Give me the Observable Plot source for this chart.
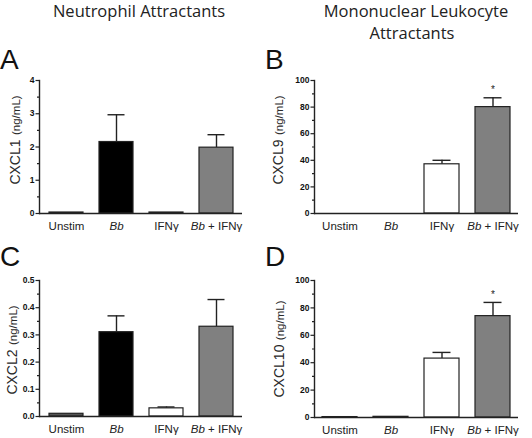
<!DOCTYPE html>
<html><head><meta charset="utf-8">
<script src="https://cdn.jsdelivr.net/npm/d3@7"></script>
<script src="https://cdn.jsdelivr.net/npm/@observablehq/plot@0.6"></script>
<style>
body{margin:0;background:#fff;}
#root{position:relative;width:532px;height:438px;overflow:hidden;background:#fff;font-family:"Liberation Sans",Arial,sans-serif;}
.hdr{position:absolute;font-family:"Open Sans",sans-serif;font-size:16.5px;line-height:20px;color:#222;white-space:nowrap;transform:translateX(-50%);}
.let{position:absolute;font-family:"Liberation Sans",Arial,sans-serif;font-size:28px;line-height:28px;color:#111;}
.yl{position:absolute;transform:translate(-50%,-50%) rotate(-90deg);white-space:nowrap;color:#2a2a2a;font-family:"Liberation Sans",Arial,sans-serif;}
.yl .m{font-size:14px}
.yl .u{font-size:11.5px}
.panel{position:absolute}
</style></head><body><div id="root"></div>
<script>
const categories = ["Unstim", "Bb", "IFNγ", "Bb + IFNγ"];
const barFills = ["#555555", "#000000", "#ffffff", "#808080"];

const cxcl1 = [0.03, 2.15, 0.03, 1.98];
const cxcl1Err = [null, 2.97, null, 2.37];
const cxcl9 = [0, 0, 37, 80];
const cxcl9Err = [null, null, 40, 87];
const cxcl2 = [0.01, 0.31, 0.03, 0.33];
const cxcl2Err = [null, 0.37, 0.035, 0.43];
const cxcl10 = [0.3, 0.5, 43, 74];
const cxcl10Err = [null, null, 47.5, 84];
const starsB = [false, false, false, true];
const starsD = [false, false, false, true];

const ticksA = [0, 1, 2, 3, 4], minorA = [0.5, 1.5, 2.5, 3.5];
const ticksB = [0, 20, 40, 60, 80, 100], minorB = [10, 30, 50, 70, 90];
const ticksC = [0, 0.1, 0.2, 0.3, 0.4, 0.5], minorC = [0.05, 0.15, 0.25, 0.35, 0.45];

const headers = [
  {text: "Neutrophil Attractants", x: 139, y: 1},
  {text: "Mononuclear Leukocyte", x: 416, y: 1},
  {text: "Attractants", x: 412, y: 23}
];

const panels = [
  {letter: "A", lx: 0, ly: 46, label: "CXCL1", ylx: 15, yly: 140,
   left: 0, top: 60, width: 266, height: 180, mL: 39, mR: 24, mT: 20, mB: 27,
   values: cxcl1, errs: cxcl1Err, stars: null, domain: [0, 4], ticks: ticksA, minor: minorA, fmt: d3.format("d")},
  {letter: "B", lx: 265, ly: 46, label: "CXCL9", ylx: 278, yly: 140,
   left: 266, top: 60, width: 266, height: 180, mL: 48, mR: 14, mT: 20, mB: 27,
   values: cxcl9, errs: cxcl9Err, stars: starsB, domain: [0, 100], ticks: ticksB, minor: minorB, fmt: d3.format("d")},
  {letter: "C", lx: 0, ly: 243, label: "CXCL2", ylx: 12, yly: 350,
   left: 0, top: 265, width: 266, height: 173, mL: 39, mR: 24, mT: 15, mB: 22,
   values: cxcl2, errs: cxcl2Err, stars: null, domain: [0, 0.5], ticks: ticksC, minor: minorC, fmt: d3.format(".1f")},
  {letter: "D", lx: 265, ly: 243, label: "CXCL10", ylx: 279, yly: 349,
   left: 266, top: 265, width: 266, height: 173, mL: 48, mR: 14, mT: 15, mB: 21,
   values: cxcl10, errs: cxcl10Err, stars: starsD, domain: [0, 100], ticks: ticksB, minor: minorB, fmt: d3.format("d")}
];

const root = document.getElementById("root");

for (const h of headers) {
  const d = document.createElement("div");
  d.className = "hdr";
  d.style.left = h.x + "px";
  d.style.top = h.y + "px";
  d.textContent = h.text;
  root.appendChild(d);
}

for (const p of panels) {
  const rows = categories.map((c, i) => ({cat: c, v: p.values[i], e: p.errs[i], fill: barFills[i], star: p.stars ? p.stars[i] : false}));
  const withErr = rows.filter(r => r.e != null);
  const withStar = rows.filter(r => r.star);
  const plot = Plot.plot({
    width: p.width, height: p.height,
    marginLeft: p.mL, marginRight: p.mR, marginTop: p.mT, marginBottom: p.mB,
    style: {fontFamily: "Liberation Sans, Arial, sans-serif", background: "transparent", color: "#222"},
    x: {domain: categories, paddingInner: 0.32, paddingOuter: 0.16, label: null},
    y: {domain: p.domain, label: null},
    marks: [
      Plot.ruleX(withErr, {x: "cat", y1: "v", y2: "e", stroke: "#222", strokeWidth: 1.4}),
      Plot.tickY(withErr, {x: "cat", y: "e", stroke: "#222", strokeWidth: 1.4, insetLeft: 8.5, insetRight: 8.5}),
      Plot.barY(rows, {x: "cat", y: "v", fill: "fill", stroke: "#222", strokeWidth: 1.2}),
      Plot.text(withStar, {x: "cat", y: "e", text: () => "*", dy: -8, fontSize: 10, fill: "#222"}),
      Plot.axisY({ticks: p.ticks, tickFormat: p.fmt, tickSize: 3.5, tickPadding: 1.5, fontSize: 8.5, fontWeight: "bold", stroke: "#222", strokeWidth: 1.2, fill: "#111", label: null}),
      Plot.axisY({ticks: p.minor, tickFormat: () => "", tickSize: 2, stroke: "#222", strokeWidth: 1.2, label: null}),
      Plot.axisX({tickSize: 0, tickPadding: 8, fontSize: 11.5, fill: "#222", label: null}),
      Plot.frame({anchor: "left", stroke: "#222", strokeWidth: 1.4}),
      Plot.ruleY([0], {stroke: "#222", strokeWidth: 1.4})
    ]
  });
  // italicize "Bb" in the x tick labels
  plot.querySelectorAll('g[aria-label="x-axis tick label"] text').forEach(t => {
    const s = t.textContent;
    if (s.startsWith("Bb")) {
      t.textContent = "";
      const a = document.createElementNS("http://www.w3.org/2000/svg", "tspan");
      a.setAttribute("font-style", "italic");
      a.textContent = "Bb";
      t.appendChild(a);
      if (s.length > 2) {
        const b = document.createElementNS("http://www.w3.org/2000/svg", "tspan");
        b.textContent = s.slice(2);
        t.appendChild(b);
      }
    }
  });
  const wrap = document.createElement("div");
  wrap.className = "panel";
  wrap.style.left = p.left + "px";
  wrap.style.top = p.top + "px";
  wrap.appendChild(plot);
  root.appendChild(wrap);

  const L = document.createElement("div");
  L.className = "let";
  L.style.left = p.lx + "px";
  L.style.top = p.ly + "px";
  L.textContent = p.letter;
  root.appendChild(L);

  const Y = document.createElement("div");
  Y.className = "yl";
  Y.style.left = p.ylx + "px";
  Y.style.top = p.yly + "px";
  Y.innerHTML = '<span class="m">' + p.label + '</span> <span class="u">(ng/mL)</span>';
  root.appendChild(Y);
}
</script></body></html>
